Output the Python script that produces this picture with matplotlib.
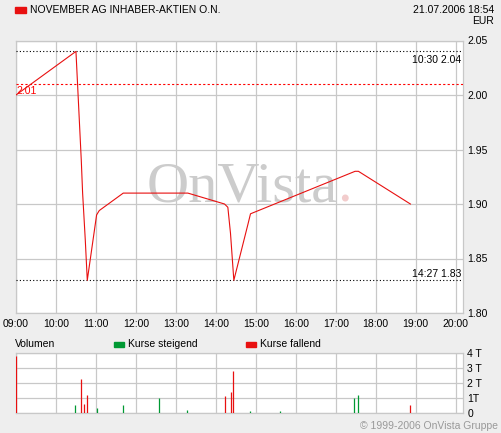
#! /usr/bin/python3

import matplotlib
matplotlib.use("Agg")
import matplotlib.pyplot as plt

# price line (time as HH:MM, price in EUR)
price_times = ["09:00", "10:30", "10:38", "10:40", "10:44", "10:47", "11:01", "11:05",
               "11:41", "13:18", "14:13", "14:18", "14:22", "14:27", "14:48", "14:52",
               "17:29", "17:34", "18:52"]
price_values = [2.00, 2.04, 1.94, 1.91, 1.867, 1.83, 1.89, 1.894,
                1.91, 1.91, 1.90, 1.897, 1.873, 1.83, 1.881, 1.891,
                1.93, 1.93, 1.90]

# volume bars (thousands), 1 = Kurse steigend, 0 = Kurse fallend
vol_times = ["09:00", "10:28", "10:38", "10:42", "10:46", "11:02", "11:40", "12:34",
             "13:17", "14:13", "14:23", "14:25", "14:52", "15:37", "17:28", "17:34", "18:51"]
vol_values = [3.8, 0.56, 2.3, 0.62, 1.22, 0.36, 0.56, 1.02,
              0.22, 1.16, 1.42, 2.82, 0.16, 0.16, 1.0, 1.22, 0.56]
vol_rising = [0, 1, 0, 0, 0, 1, 1, 1, 1, 0, 0, 0, 1, 1, 1, 1, 0]

hour_labels = ["09:00", "10:00", "11:00", "12:00", "13:00", "14:00", "15:00",
               "16:00", "17:00", "18:00", "19:00", "20:00"]
price_ticks = [1.80, 1.85, 1.90, 1.95, 2.00, 2.05]
vol_ticks = [0, 1, 2, 3, 4]
vol_tick_labels = ["0", "1T", "2 T", "3 T", "4 T"]

high_time, high_value = "10:30", 2.04
low_time, low_value = "14:27", 1.83
prev_close = 2.01


def to_hours(s):
    h, m = s.split(":")
    return int(h) + int(m) / 60.0


RED = "#e81010"
GREEN = "#009933"
GRID = "#c8c8c8"
BG = "#eeeeee"

plt.rcParams["font.family"] = ["Liberation Sans", "DejaVu Sans"]
plt.rcParams["font.size"] = 7.5

fig = plt.figure(figsize=(5.01, 4.33), dpi=100)
fig.patch.set_facecolor(BG)

W, H = 501.0, 433.0
x0, x1 = 16 / W, 463 / W
ax = fig.add_axes([x0, 1 - 313 / H, x1 - x0, (313 - 40.5) / H])
axv = fig.add_axes([x0, 1 - 413 / H, x1 - x0, (413 - 353) / H])

xmin, xmax = 9.0, 20.0 + 11 / 60.0
hours = [to_hours(s) for s in hour_labels]

for a in (ax, axv):
    a.set_facecolor("white")
    a.set_xlim(xmin, xmax)
    a.set_xticks(hours)
    a.grid(True, color=GRID, linewidth=0.9)
    a.set_axisbelow(True)
    for sp in a.spines.values():
        sp.set_color(GRID)
        sp.set_linewidth(0.9)
    a.yaxis.tick_right()
    a.tick_params(length=0, pad=3, colors="black")

# main price chart
ax.set_ylim(1.80, 2.05)
ax.set_yticks(price_ticks)
ax.set_yticklabels(["%.2f" % v for v in price_ticks])
ax.set_xticklabels(hour_labels)
ax.tick_params(axis="x", pad=4)

ax.axhline(high_value, color="black", linestyle=(0, (1, 2)), linewidth=0.8, zorder=3)
ax.axhline(low_value, color="black", linestyle=(0, (1, 2)), linewidth=0.8, zorder=3)
ax.axhline(prev_close, color="red", linestyle=(0, (2, 2)), linewidth=0.8, zorder=3)
ax.text(xmax - 0.05, high_value - 0.003, "%s %.2f" % (high_time, high_value),
        ha="right", va="top", fontsize=7.5)
ax.text(xmax - 0.05, low_value + 0.001, "%s %.2f" % (low_time, low_value),
        ha="right", va="bottom", fontsize=7.5)
ax.text(xmin + 0.02, prev_close - 0.002, "%.2f" % prev_close,
        ha="left", va="top", color="red", fontsize=7.5)

wm = ax.text(14.65, 1.915, "OnVista", ha="center", va="center",
             family=["Liberation Serif", "DejaVu Serif"], fontsize=42,
             color="#cccccc", zorder=1.5)
ax.annotate(".", xy=(1, 0), xycoords=wm, xytext=(0, 0), textcoords="offset points",
            ha="left", va="bottom", family=["Liberation Serif", "DejaVu Serif"],
            fontsize=42, color="#f2cccc", zorder=1.5)

ax.plot([to_hours(t) for t in price_times], price_values,
        color=RED, linewidth=0.8, zorder=4)

# volume chart
axv.set_ylim(0, 4)
axv.set_yticks(vol_ticks)
axv.set_yticklabels(vol_tick_labels)
axv.set_xticklabels([])
for t, v, r in zip(vol_times, vol_values, vol_rising):
    axv.vlines(to_hours(t), 0, v, color=GREEN if r else RED, linewidth=0.9, zorder=3)

# header and legend texts
fig.patches.append(plt.Rectangle((15 / W, 1 - 12.5 / H), 11 / W, 5.5 / H,
                                 transform=fig.transFigure, color=RED))
fig.text(30 / W, 1 - 10 / H, "NOVEMBER AG INHABER-AKTIEN O.N.", ha="left", va="center",
         fontsize=7.5)
fig.text(494 / W, 1 - 10 / H, "21.07.2006 18:54", ha="right", va="center", fontsize=7.5)
fig.text(494 / W, 1 - 21 / H, "EUR", ha="right", va="center", fontsize=7.5)

fig.text(15 / W, 1 - 344 / H, "Volumen", ha="left", va="center", fontsize=7.5)
fig.patches.append(plt.Rectangle((114 / W, 1 - 347 / H), 10 / W, 5 / H,
                                 transform=fig.transFigure, color=GREEN))
fig.text(128 / W, 1 - 344 / H, "Kurse steigend", ha="left", va="center", fontsize=7.5)
fig.patches.append(plt.Rectangle((246 / W, 1 - 347 / H), 10 / W, 5 / H,
                                 transform=fig.transFigure, color=RED))
fig.text(260 / W, 1 - 344 / H, "Kurse fallend", ha="left", va="center", fontsize=7.5)

fig.text(498 / W, 1 - 426 / H, "\u00a9 1999-2006 OnVista Gruppe", ha="right", va="center",
         fontsize=7.5, color="#999999")

fig.savefig("out.png", dpi=100, facecolor=fig.get_facecolor())
